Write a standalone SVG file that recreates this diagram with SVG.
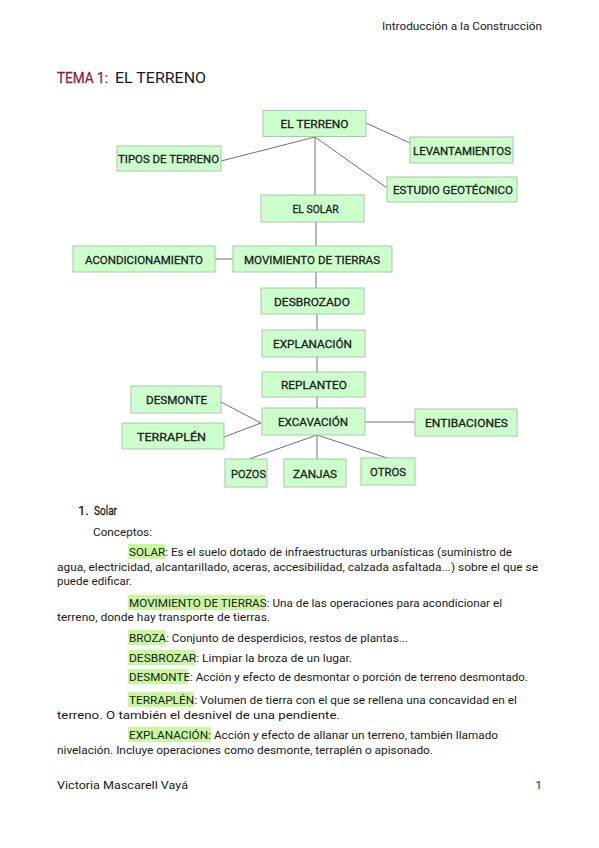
<svg xmlns="http://www.w3.org/2000/svg" width="599" height="848" viewBox="0 0 599 848">
<style>
text{font-family:Roboto,"Liberation Sans",sans-serif;fill:#1a1a1a}
.box rect{fill:#ccffcc;stroke:#a8c8a8;stroke-width:1}
.box text{font-size:11.5px;text-anchor:middle;stroke:#1a1a1a;stroke-width:0.3}
.con line{stroke:#707070;stroke-width:1}
.hl{fill:#c8f7a0}
.body{font-size:11.5px}
</style>
<rect width="599" height="848" fill="#fff"/>
<text x="542" y="30" font-size="11" text-anchor="end" textLength="160" lengthAdjust="spacingAndGlyphs">Introducción a la Construcción</text>
<text x="57" y="83" font-size="15" textLength="51" lengthAdjust="spacingAndGlyphs" style="fill:#8b1e3f;stroke:#8b1e3f;stroke-width:0.3">TEMA 1:</text>
<text x="115" y="83" font-size="15" textLength="91" lengthAdjust="spacingAndGlyphs">EL TERRENO</text>

<g class="con">
<line x1="366" y1="123" x2="410" y2="143"/>
<line x1="315" y1="137" x2="221" y2="161"/>
<line x1="315" y1="137" x2="387" y2="188"/>
<line x1="315" y1="136" x2="315" y2="195"/>
<line x1="316" y1="222" x2="316" y2="246"/>
<line x1="215" y1="259" x2="233" y2="259"/>
<line x1="316" y1="272" x2="316" y2="288"/>
<line x1="317" y1="314" x2="317" y2="330"/>
<line x1="317" y1="357" x2="317" y2="372"/>
<line x1="317" y1="397" x2="317" y2="408"/>
<line x1="221" y1="402" x2="261" y2="423"/>
<line x1="224" y1="437" x2="261" y2="423"/>
<line x1="365" y1="422" x2="415" y2="422"/>
<line x1="317" y1="435" x2="249" y2="459"/>
<line x1="317" y1="435" x2="317" y2="459"/>
<line x1="317" y1="435" x2="390" y2="459"/>
</g>

<g id="n-terreno" class="box"><rect x="263" y="110.5" width="103" height="26"/><text x="314.5" y="128" textLength="68" lengthAdjust="spacingAndGlyphs">EL TERRENO</text></g>
<g id="n-levant" class="box"><rect x="410" y="137" width="103" height="26"/><text x="462" y="154.5" textLength="98" lengthAdjust="spacingAndGlyphs">LEVANTAMIENTOS</text></g>
<g id="n-tipos" class="box"><rect x="117" y="146" width="104" height="25"/><text x="168.5" y="163" textLength="101" lengthAdjust="spacingAndGlyphs">TIPOS DE TERRENO</text></g>
<g id="n-estudio" class="box"><rect x="387" y="177" width="130" height="25"/><text x="453" y="194" textLength="120" lengthAdjust="spacingAndGlyphs">ESTUDIO GEOTÉCNICO</text></g>
<g id="n-solar" class="box"><rect x="261" y="195" width="103" height="27"/><text x="315.5" y="213" textLength="46" lengthAdjust="spacingAndGlyphs">EL SOLAR</text></g>
<g id="n-acond" class="box"><rect x="73" y="246" width="142" height="26"/><text x="144" y="263.5" textLength="118" lengthAdjust="spacingAndGlyphs">ACONDICIONAMIENTO</text></g>
<g id="n-movim" class="box"><rect x="233" y="246" width="159" height="26"/><text x="312" y="263.5" textLength="136" lengthAdjust="spacingAndGlyphs">MOVIMIENTO DE TIERRAS</text></g>
<g id="n-desbrozado" class="box"><rect x="261" y="288" width="103" height="26"/><text x="312" y="305.5" textLength="76" lengthAdjust="spacingAndGlyphs">DESBROZADO</text></g>
<g id="n-explanacion" class="box"><rect x="262" y="330" width="103" height="27"/><text x="312.5" y="347.5" textLength="79" lengthAdjust="spacingAndGlyphs">EXPLANACIÓN</text></g>
<g id="n-replanteo" class="box"><rect x="262" y="372" width="103" height="25"/><text x="314" y="389" textLength="66" lengthAdjust="spacingAndGlyphs">REPLANTEO</text></g>
<g id="n-desmonte" class="box"><rect x="131" y="386" width="90" height="27"/><text x="176.5" y="403.5" textLength="61" lengthAdjust="spacingAndGlyphs">DESMONTE</text></g>
<g id="n-terraplen" class="box"><rect x="122" y="423" width="102" height="26"/><text x="171.5" y="440.5" textLength="69" lengthAdjust="spacingAndGlyphs">TERRAPLÉN</text></g>
<g id="n-excavacion" class="box"><rect x="262" y="408" width="103" height="27"/><text x="313" y="426" textLength="70" lengthAdjust="spacingAndGlyphs">EXCAVACIÓN</text></g>
<g id="n-entibaciones" class="box"><rect x="415" y="409" width="102" height="27"/><text x="466.5" y="427" textLength="83" lengthAdjust="spacingAndGlyphs">ENTIBACIONES</text></g>
<g id="n-pozos" class="box"><rect x="225" y="459" width="42" height="28"/><text x="248.5" y="477.5" textLength="35" lengthAdjust="spacingAndGlyphs">POZOS</text></g>
<g id="n-zanjas" class="box"><rect x="284" y="459" width="62" height="28"/><text x="315" y="477.5" textLength="44" lengthAdjust="spacingAndGlyphs">ZANJAS</text></g>
<g id="n-otros" class="box"><rect x="361" y="458" width="54" height="27"/><text x="388" y="476" textLength="36" lengthAdjust="spacingAndGlyphs">OTROS</text></g>

<g class="body">
<text x="78" y="515" font-size="13" style="stroke:#1a1a1a;stroke-width:0.3">1.</text>
<text x="94" y="515" font-size="13.5" textLength="23" lengthAdjust="spacingAndGlyphs" style="stroke:#1a1a1a;stroke-width:0.3">Solar</text>
<text x="93" y="536" textLength="59" lengthAdjust="spacingAndGlyphs">Conceptos:</text>

<rect class="hl" x="128" y="544" width="37" height="15"/>
<text x="129" y="556" textLength="383" lengthAdjust="spacingAndGlyphs">SOLAR: Es el suelo dotado de infraestructuras urbanísticas (suministro de</text>
<text x="57" y="571" textLength="481" lengthAdjust="spacingAndGlyphs">agua, electricidad, alcantarillado, aceras, accesibilidad, calzada asfaltada...) sobre el que se</text>
<text x="57" y="585" textLength="75" lengthAdjust="spacingAndGlyphs">puede edificar.</text>

<rect class="hl" x="128" y="595" width="137" height="15"/>
<text x="129" y="607" textLength="373" lengthAdjust="spacingAndGlyphs">MOVIMIENTO DE TIERRAS: Una de las operaciones para acondicionar el</text>
<text x="57" y="621" textLength="213" lengthAdjust="spacingAndGlyphs">terreno, donde hay transporte de tierras.</text>

<rect class="hl" x="128" y="630" width="37" height="15"/>
<text x="129" y="642" textLength="279" lengthAdjust="spacingAndGlyphs">BROZA: Conjunto de desperdicios, restos de plantas...</text>

<rect class="hl" x="128" y="650" width="68" height="15"/>
<text x="129" y="662" textLength="223" lengthAdjust="spacingAndGlyphs">DESBROZAR: Limpiar la broza de un lugar.</text>

<rect class="hl" x="128" y="669" width="60" height="15"/>
<text x="129" y="681" textLength="399" lengthAdjust="spacingAndGlyphs">DESMONTE: Acción y efecto de desmontar o porción de terreno desmontado.</text>

<rect class="hl" x="128" y="692" width="66" height="15"/>
<text x="129" y="704" textLength="388" lengthAdjust="spacingAndGlyphs">TERRAPLÉN: Volumen de tierra con el que se rellena una concavidad en el</text>
<text x="57" y="719" textLength="283" lengthAdjust="spacingAndGlyphs">terreno. O también el desnivel de una pendiente.</text>

<rect class="hl" x="128" y="727" width="83" height="15"/>
<text x="129" y="739" textLength="369" lengthAdjust="spacingAndGlyphs">EXPLANACIÓN: Acción y efecto de allanar un terreno, también llamado</text>
<text x="57" y="754" textLength="376" lengthAdjust="spacingAndGlyphs">nivelación. Incluye operaciones como desmonte, terraplén o apisonado.</text>

<text x="57" y="789" textLength="131" lengthAdjust="spacingAndGlyphs">Victoria Mascarell Vayá</text>
<text x="542" y="789" text-anchor="end">1</text>
</g>
</svg>
